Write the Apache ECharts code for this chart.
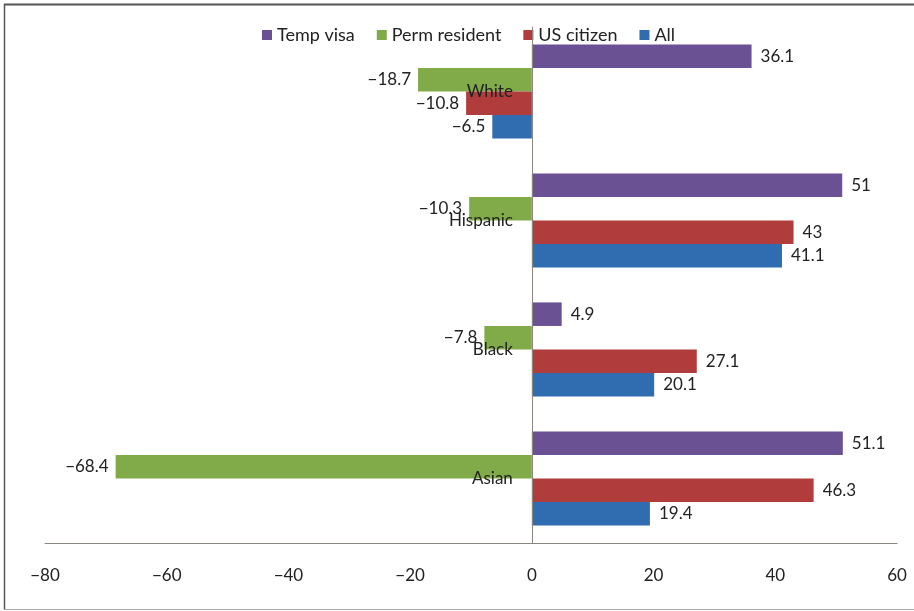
<!DOCTYPE html>
<html>
<head>
<meta charset="utf-8">
<script src="https://cdn.jsdelivr.net/npm/echarts@6/dist/echarts.min.js"></script>
<style>
  html, body { margin: 0; padding: 0; background: #ffffff; }
  #chart { width: 914px; height: 611px; }
</style>
</head>
<body>
<div id="chart"></div>
<script>
// Groups, bottom to top along the category axis
const categories = ['Asian', 'Black', 'Hispanic', 'White'];

// Percent change by residency status, in the same order as categories
const allValues       = [19.4, 20.1, 41.1, -6.5];
const usCitizenValues = [46.3, 27.1, 43, -10.8];
const permResValues   = [-68.4, -7.8, -10.3, -18.7];
const tempVisaValues  = [51.1, 4.9, 51, 36.1];

const legendOrder = ['Temp visa', 'Perm resident', 'US citizen', 'All'];

const X_MIN = -80, X_MAX = 60, X_STEP = 20;

const FONT = 'Lato, "Open Sans", sans-serif';
const FS = 17;
const minus = v => String(v).replace('-', '\u2212');

const W = 914, GRID_LEFT = 45, GRID_RIGHT = 17;
// Shift the category axis from the left edge of the grid to x = 0
const plotWidth = W - GRID_LEFT - GRID_RIGHT;
const zeroShift = (0 - X_MIN) / (X_MAX - X_MIN) * plotWidth;

function barSeries(name, values, color) {
  return {
    name: name,
    type: 'bar',
    barGap: '0%',
    barCategoryGap: '27%',
    itemStyle: { color: color },
    data: values.map(v => ({
      value: v,
      label: {
        show: true,
        position: v < 0 ? 'left' : 'right',
        distance: v < 0 ? 7 : 9,
        formatter: p => minus(p.value),
        fontFamily: FONT,
        fontSize: FS,
        color: '#222'
      }
    }))
  };
}

const chart = echarts.init(document.getElementById('chart'), null, { renderer: 'canvas' });

chart.setOption({
  backgroundColor: '#ffffff',
  animation: false,
  textStyle: { fontFamily: FONT },
  legend: {
    data: legendOrder,
    left: 262,
    top: 26,
    padding: 0,
    icon: 'rect',
    itemWidth: 10,
    itemHeight: 10,
    itemGap: 22,
    textStyle: { fontFamily: FONT, fontSize: 18, color: '#222' }
  },
  grid: { left: GRID_LEFT, right: GRID_RIGHT, top: 27, bottom: 68, containLabel: false, outerBoundsMode: 'none' },
  xAxis: {
    type: 'value',
    min: X_MIN,
    max: X_MAX,
    interval: X_STEP,
    splitLine: { show: false },
    axisTick: { show: false },
    axisLine: { show: true, lineStyle: { color: '#8c8580', width: 1 } },
    axisLabel: {
      margin: 24,
      fontFamily: FONT,
      fontSize: FS,
      color: '#222',
      formatter: v => minus(v)
    }
  },
  yAxis: {
    type: 'category',
    data: categories,
    z: 10,
    offset: -zeroShift,
    axisTick: { show: false },
    axisLine: { show: true, onZero: false, lineStyle: { color: '#8c8580', width: 1 } },
    axisLabel: {
      margin: 19,
      fontFamily: FONT,
      fontSize: FS,
      color: '#222'
    }
  },
  // Within each group the first series sits on top
  series: [
    barSeries('Temp visa', tempVisaValues, '#6a5194'),
    barSeries('Perm resident', permResValues, '#81ab49'),
    barSeries('US citizen', usCitizenValues, '#b03c3c'),
    barSeries('All', allValues, '#2f6db0')
  ],
  graphic: [
    { type: 'line', shape: { x1: 4, y1: 4.5, x2: 914, y2: 4.5 }, style: { stroke: '#555', lineWidth: 2 } },
    { type: 'line', shape: { x1: 4.5, y1: 4, x2: 4.5, y2: 610 }, style: { stroke: '#555', lineWidth: 1.5 } },
    { type: 'line', shape: { x1: 4, y1: 609.5, x2: 914, y2: 609.5 }, style: { stroke: '#aaa', lineWidth: 1 } }
  ]
});
</script>
</body>
</html>
